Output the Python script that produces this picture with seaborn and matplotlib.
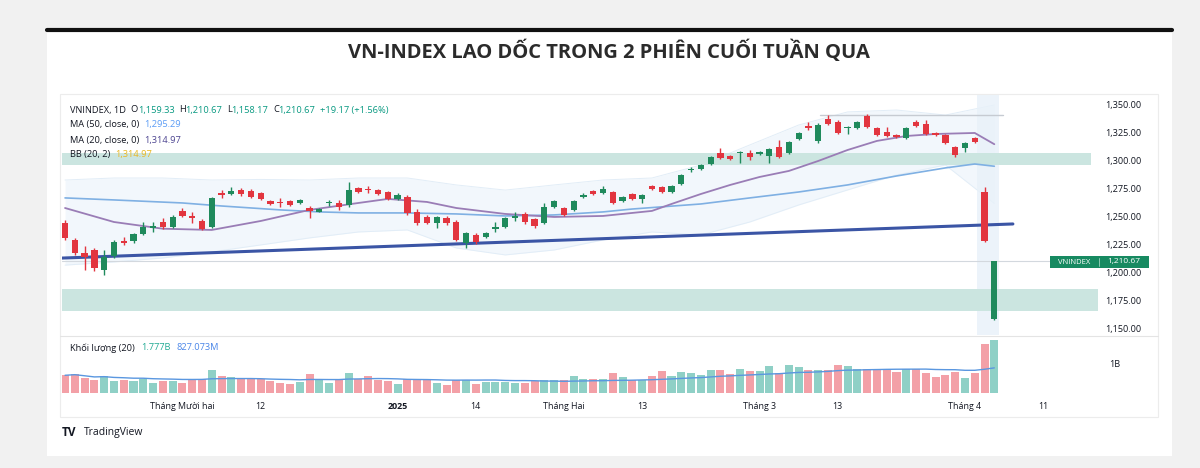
import numpy as np
import pandas as pd
import matplotlib
matplotlib.use("Agg")
import matplotlib.pyplot as plt
import seaborn as sns
from matplotlib.patches import Rectangle
from matplotlib.lines import Line2D

# ---------------- data ----------------
opens = [1244.6, 1229.5, 1217.9, 1220.5, 1202.7, 1215.2, 1228.6, 1228.6, 1234.8, 1240.5,
         1245.5, 1241.1, 1255.4, 1250.9, 1246.4, 1241.1, 1271.4, 1270.5, 1274.1, 1273.2,
         1271.4, 1264.3, 1263.4, 1264.3, 1262.5, 1258.0, 1254.5, 1262.5, 1262.5, 1260.7,
         1275.9, 1275.0, 1274.1, 1272.3, 1266.1, 1267.9, 1254.5, 1250.0, 1244.6, 1249.1,
         1245.5, 1226.8, 1233.9, 1232.1, 1239.3, 1241.1, 1249.5, 1252.7, 1248.2, 1244.6,
         1258.9, 1258.0, 1256.3, 1267.9, 1273.2, 1271.4, 1272.3, 1264.3, 1270.5, 1266.1,
         1277.7, 1276.8, 1272.3, 1279.5, 1292.0, 1292.9, 1297.3, 1307.1, 1304.5, 1307.1,
         1307.1, 1306.2, 1304.5, 1312.5, 1307.1, 1319.6, 1331.2, 1317.9, 1337.5, 1334.8,
         1329.5, 1329.5, 1340.2, 1329.5, 1325.9, 1323.2, 1320.5, 1334.8, 1333.0, 1325.0,
         1323.2, 1312.5, 1311.6, 1320.5, 1272.3, 1159.33]
highs = [1247, 1231, 1224, 1222, 1220.5, 1229, 1232, 1236, 1245.5, 1245.5,
         1249, 1251.5, 1258, 1254.5, 1248, 1268, 1274.1, 1276.8, 1275.5, 1275,
         1272.5, 1265, 1267, 1265, 1266, 1259.8, 1258, 1265.2, 1265, 1281.3,
         1277, 1277.7, 1275, 1273, 1271, 1270, 1257, 1252, 1251, 1251,
         1247, 1237, 1235.7, 1237, 1245.5, 1250, 1254.5, 1254, 1249, 1262.5,
         1265.5, 1259, 1265.5, 1271, 1274, 1277.7, 1273, 1269, 1271.5, 1270.5,
         1278.6, 1277.7, 1278.6, 1288.4, 1294.6, 1297.3, 1304.5, 1311.6, 1305.4, 1308.5,
         1309.8, 1309, 1311.6, 1318.8, 1318, 1326, 1334.8, 1334, 1341.1, 1336.6,
         1331, 1336, 1341.5, 1330.4, 1330.4, 1324.1, 1330.4, 1336.6, 1336.6, 1326,
         1324, 1313.4, 1317, 1321.4, 1276.8, 1210.67]
lows = [1229.5, 1216, 1202.7, 1202, 1198.2, 1213, 1225, 1227, 1234, 1236.6,
        1239, 1240, 1250, 1244.6, 1238, 1240, 1267, 1270, 1269, 1267,
        1265, 1260.7, 1258.9, 1260, 1262, 1249.1, 1254, 1259.8, 1256, 1259,
        1271, 1271.4, 1269.6, 1265, 1265, 1252, 1243, 1244, 1240.2, 1243,
        1228.6, 1222.3, 1226, 1231, 1236.6, 1240, 1246, 1244, 1240, 1244,
        1258, 1250.5, 1255, 1267, 1270, 1270.5, 1261.6, 1263.4, 1265, 1262.5,
        1274.1, 1271.4, 1271.4, 1278.6, 1290.2, 1292, 1296.4, 1302, 1301, 1298.2,
        1300.9, 1305.4, 1298.2, 1302.7, 1306, 1319, 1327.7, 1316, 1332, 1324,
        1324.1, 1328.6, 1329.5, 1322, 1321.4, 1320.5, 1319.6, 1330.4, 1323.2, 1322.3,
        1315, 1303.6, 1308, 1316.1, 1227.7, 1158.17]
closes = [1231.2, 1217.9, 1214.3, 1204.5, 1214.3, 1227.7, 1226.8, 1234.8, 1241.1, 1241.5,
          1241.1, 1250.0, 1250.9, 1249.1, 1239.3, 1267.0, 1269.6, 1273.2, 1270.5, 1267.9,
          1266.1, 1261.6, 1262.5, 1260.7, 1265.2, 1255.4, 1257.1, 1263.4, 1258.9, 1274.1,
          1272.3, 1274.1, 1270.5, 1266.1, 1269.6, 1253.6, 1244.6, 1244.6, 1250.0, 1244.6,
          1229.5, 1235.7, 1227.7, 1235.7, 1241.1, 1249.1, 1250.5, 1245.5, 1242.0, 1258.9,
          1264.3, 1251.8, 1264.3, 1269.6, 1270.5, 1275.0, 1262.5, 1267.9, 1266.1, 1269.6,
          1275.0, 1272.3, 1277.7, 1287.5, 1292.9, 1296.4, 1303.6, 1302.7, 1301.8, 1308.0,
          1303.6, 1308.0, 1310.7, 1303.6, 1317.0, 1325.0, 1329.5, 1332.1, 1333.0, 1325.0,
          1330.4, 1334.8, 1330.4, 1323.2, 1322.3, 1321.4, 1329.5, 1331.2, 1324.1, 1323.2,
          1316.1, 1305.4, 1316.1, 1317.0, 1228.6, 1210.67]
volumes = [0.59, 0.63, 0.50, 0.42, 0.58, 0.39, 0.44, 0.39, 0.48, 0.33,
           0.39, 0.39, 0.33, 0.44, 0.48, 0.78, 0.56, 0.53, 0.48, 0.48,
           0.48, 0.39, 0.33, 0.31, 0.36, 0.63, 0.44, 0.33, 0.47, 0.67,
           0.47, 0.56, 0.42, 0.39, 0.31, 0.47, 0.47, 0.47, 0.33, 0.28,
           0.44, 0.44, 0.31, 0.36, 0.36, 0.36, 0.33, 0.33, 0.39, 0.44,
           0.44, 0.42, 0.56, 0.48, 0.47, 0.48, 0.67, 0.52, 0.44, 0.44,
           0.58, 0.72, 0.58, 0.69, 0.67, 0.61, 0.76, 0.78, 0.64, 0.80,
           0.72, 0.72, 0.89, 0.67, 0.94, 0.86, 0.78, 0.78, 0.78, 0.94,
           0.89, 0.80, 0.80, 0.80, 0.80, 0.69, 0.80, 0.80, 0.67, 0.53,
           0.61, 0.69, 0.50, 0.67, 1.64, 1.777]

ma20_idx = [0, 5, 10, 15, 20, 25, 30, 33, 37, 40, 45, 50, 55, 60, 62, 65, 68, 71, 74, 77, 80, 83, 86, 89, 93, 95]
ma20_val = [1258.0, 1245.5, 1239.5, 1238.4, 1246.4, 1256.3, 1262.5, 1266.1, 1263.4, 1258.0, 1252.7,
            1250.0, 1250.9, 1255.4, 1261.6, 1270.5, 1278.6, 1285.7, 1291.1, 1300.0, 1309.8,
            1317.9, 1322.3, 1324.1, 1325.0, 1314.97]
ma50_idx = [0, 5, 12, 16, 22, 26, 30, 35, 40, 45, 50, 55, 58, 65, 70, 75, 80, 85, 90, 93, 95]
ma50_val = [1267.0, 1265.2, 1262.5, 1259.8, 1256.3, 1254.5, 1253.6, 1253.6, 1252.7, 1250.9,
            1251.8, 1254.5, 1257.1, 1261.6, 1267.0, 1272.3, 1278.6, 1286.6, 1293.8, 1297.3, 1295.29]
bb_idx = [0, 5, 10, 15, 20, 25, 30, 35, 40, 45, 50, 55, 60, 65, 70, 75, 80, 85, 90, 95]
bb_upper = [1283.0, 1284.8, 1284.8, 1283.0, 1283.5, 1283.0, 1284.8, 1284.8, 1278.6, 1274.0,
            1278.6, 1283.0, 1284.8, 1296.4, 1314.3, 1332.1, 1343.8, 1345.5, 1341.0, 1350.0]
bb_lower = [1207.0, 1209.8, 1213.4, 1218.8, 1225.0, 1231.3, 1236.6, 1238.4, 1222.3, 1216.1,
            1220.5, 1229.5, 1236.6, 1233.9, 1245.5, 1260.7, 1274.1, 1287.5, 1296.4, 1262.0]

trend_x = [-0.3, 96.9]
trend_y = [1213.3, 1243.75]
resist_x = [77.2, 95.9]
resist_y = [1341.0, 1341.0]
zone_hi = [(1296.4, 1307.1), (1166.1, 1185.7)]
last_price = 1210.67

tick_idx = [12, 20, 34, 42, 51, 59, 71, 79, 92, 100]
tick_lab = ["Tháng Mười hai", "12", "2025", "14", "Tháng Hai", "13", "Tháng 3", "13", "Tháng 4", "11"]
price_ticks = [1150, 1175, 1200, 1225, 1250, 1275, 1300, 1325, 1350]

# ---------------- style ----------------
sns.set_style("white")
plt.rcParams['font.family'] = ['Open Sans', 'DejaVu Sans']

GREEN = "#1f8a5c"
RED = "#e2353f"
VGREEN = "#8fd0c6"
VRED = "#f3a0a7"
DARK = "#131722"

W, H = 1200, 468
fig = plt.figure(figsize=(12, 4.68), dpi=100)
fig.patch.set_facecolor("#f1f1f1")

def fx(x):
    return x / W

def fy(y):
    return 1 - y / H

fig.add_artist(Rectangle((fx(47), fy(456)), fx(1172) - fx(47), fy(31) - fy(456),
                         transform=fig.transFigure, facecolor="white", edgecolor="none", zorder=-5))
fig.add_artist(Line2D([fx(47), fx(1172)], [fy(30), fy(30)], transform=fig.transFigure,
                      color="#111111", lw=3, zorder=-4))
fig.add_artist(Rectangle((fx(60), fy(417)), fx(1158) - fx(60), fy(94) - fy(417),
                         transform=fig.transFigure, facecolor="none", edgecolor="#ececec", lw=0.8, zorder=-3))
fig.add_artist(Line2D([fx(60), fx(1158)], [fy(336), fy(336)], transform=fig.transFigure,
                      color="#e4e4e4", lw=0.8, zorder=-3))

fig.text(fx(609), fy(52), "VN-INDEX LAO DỐC TRONG 2 PHIÊN CUỐI TUẦN QUA", ha="center", va="center",
         fontsize=14.5, fontweight="bold", color="#2b2b2b")

ax = fig.add_axes([fx(62), fy(335), fx(1098) - fx(62), fy(95) - fy(335)])
axv = fig.add_axes([fx(62), fy(398), fx(1098) - fx(62), fy(337) - fy(398)], sharex=ax)
for a in (ax, axv):
    a.set_facecolor("none")
    for s in a.spines.values():
        s.set_visible(False)

n = len(opens)
idx = np.arange(n)
o = np.array(opens); c = np.array(closes); h = np.array(highs); l = np.array(lows)
up = c >= o
ccol = np.where(up, GREEN, RED)

# zones, BB, highlight
for lo_, hi_ in zone_hi:
    ax.axhspan(lo_, hi_, xmin=0, xmax=0.993 if lo_ > 1250 else 1.0, color="#cbe5e0", lw=0, zorder=1)
ax.fill_between(bb_idx, bb_lower, bb_upper, color="#eaf3fa", alpha=0.6, lw=0, zorder=0.5)
ax.plot(bb_idx, bb_upper, color="#e2edf7", lw=0.7, zorder=0.6)
ax.plot(bb_idx, bb_lower, color="#e2edf7", lw=0.7, zorder=0.6)
ax.axvspan(93.25, 95.45, color="#e8f1f9", alpha=0.8, lw=0, zorder=0.7)

ax.axhline(last_price, xmin=0, xmax=0.954, color="#d3d8de", lw=0.8, zorder=1.2)
ax.plot(resist_x, resist_y, color="#c6cbd2", lw=1.0, zorder=1.2)
ax.plot(trend_x, trend_y, color="#3b55a5", lw=2.2, zorder=2, solid_capstyle="round")

sns.lineplot(x=ma50_idx, y=ma50_val, ax=ax, color="#7fb0e3", lw=1.2, zorder=2.5)
sns.lineplot(x=ma20_idx, y=ma20_val, ax=ax, color="#9a7db6", lw=1.3, zorder=2.6)

# candles
ax.vlines(idx, l, h, colors=ccol, lw=1.0, zorder=3)
body_b = np.minimum(o, c)
body_h = np.maximum(np.abs(c - o), 0.8)
ax.bar(idx, body_h, bottom=body_b, width=0.64, color=ccol, lw=0, zorder=4)

ax.set_xlim(-0.31, 105.6)
ax.set_ylim(1144.6, 1358.9)
ax.yaxis.tick_right()
ax.set_yticks(price_ticks)
ax.set_yticklabels([f"{v:,.2f}" for v in price_ticks])
ax.tick_params(axis="y", length=0, pad=5, labelsize=6.6, labelcolor=DARK)
ax.tick_params(axis="x", length=0, labelbottom=False)
ax.set_xlabel(""); ax.set_ylabel("")
ax.grid(False)

# volume
vcol = np.where(up, VGREEN, VRED)
axv.bar(idx, volumes, width=0.82, color=vcol, lw=0, zorder=2)
vma = pd.Series(volumes).rolling(20, min_periods=1).mean()
sns.lineplot(x=idx, y=vma.values, ax=axv, color="#5a97e0", lw=1.0, zorder=3)
axv.set_ylim(-0.17, 1.87)
axv.yaxis.tick_right()
axv.set_yticks([1])
axv.set_yticklabels(["1B"])
axv.tick_params(axis="y", length=0, pad=8, labelsize=6.6, labelcolor=DARK)
axv.set_xticks(tick_idx)
axv.set_xticklabels(tick_lab)
axv.tick_params(axis="x", length=0, pad=3, labelsize=6.4, labelcolor=DARK)
for t in axv.get_xticklabels():
    if t.get_text() == "2025":
        t.set_fontweight("bold")
axv.set_xlabel(""); axv.set_ylabel("")
axv.grid(False)

# legend texts
def chain(x, y, parts, size=6.7):
    t = fig.text(fx(x), fy(y), parts[0][0], color=parts[0][1], fontsize=size, va="center", ha="left")
    for s, col, gap in parts[1:]:
        t = ax.annotate(s, xy=(1, 0.5), xycoords=t, xytext=(gap, 0), textcoords="offset points",
                        va="center", ha="left", color=col, fontsize=size, annotation_clip=False)
    return t

G = "#089981"
chain(70, 110, [("VNINDEX, 1D", DARK), ("O", DARK, 3.5), ("1,159.33", G, -0.3), ("H", DARK, 3.5),
                ("1,210.67", G, -0.3), ("L", DARK, 3.5), ("1,158.17", G, -0.3), ("C", DARK, 3.5),
                ("1,210.67", G, -0.3), ("+19.17 (+1.56%)", G, 3.5)])
chain(70, 125, [("MA (50, close, 0)", DARK), ("1,295.29", "#5b9cf6", 3.5)])
chain(70, 140, [("MA (20, close, 0)", DARK), ("1,314.97", "#4d4591", 3.5)])
chain(70, 155, [("BB (20, 2)", DARK), ("1,314.97", "#e9b824", 3.5)])
chain(70, 348, [("Khối lượng (20)", DARK), ("1.777B", "#22ab94", 4.5), ("827.073M", "#4a86e8", 4.5)])

# last price label
fig.add_artist(Rectangle((fx(1050), fy(268)), fx(1149) - fx(1050), fy(256) - fy(268),
                         transform=fig.transFigure, facecolor="#178a61", edgecolor="none", zorder=10))
fig.add_artist(Line2D([fx(1099), fx(1099)], [fy(266), fy(258)], transform=fig.transFigure,
                      color="#9fd3c0", lw=0.6, zorder=11))
fig.text(fx(1074), fy(262), "VNINDEX", color="white", fontsize=5.5, ha="center", va="center", zorder=12)
fig.text(fx(1124), fy(262), "1,210.67", color="white", fontsize=6, ha="center", va="center", zorder=12)

# TradingView mark
fig.text(fx(62), fy(433), "TV", color="#131722", fontsize=8.5, fontweight="bold", va="center", ha="left")
fig.text(fx(84), fy(433), "TradingView", color="#131722", fontsize=7.5, va="center", ha="left")

fig.savefig("out.png", dpi=100, facecolor=fig.get_facecolor())
